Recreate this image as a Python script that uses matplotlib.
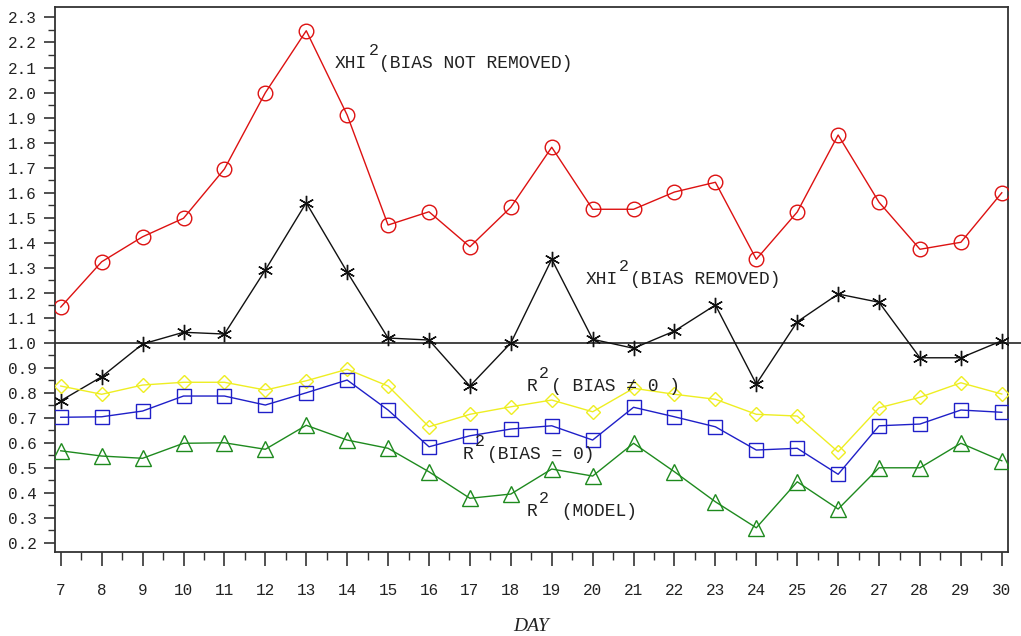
import matplotlib
matplotlib.use("Agg")
import matplotlib.pyplot as plt
from matplotlib.ticker import MultipleLocator, FixedLocator, FormatStrFormatter
from matplotlib.transforms import blended_transform_factory

# ---- data -------------------------------------------------------------
days = list(range(7, 31))

xhi2_bias_not_removed = [1.142, 1.323, 1.423, 1.497, 1.694, 1.999, 2.247, 1.910,
                         1.470, 1.523, 1.383, 1.541, 1.781, 1.533, 1.533, 1.602,
                         1.641, 1.333, 1.522, 1.830, 1.561, 1.373, 1.401, 1.599]

xhi2_bias_removed = [0.767, 0.863, 0.994, 1.041, 1.034, 1.290, 1.559, 1.282,
                     1.018, 1.010, 0.826, 0.998, 1.333, 1.013, 0.977, 1.046,
                     1.150, 0.834, 1.083, 1.194, 1.161, 0.939, 0.939, 1.007]

r2_bias_nonzero = [0.826, 0.793, 0.830, 0.841, 0.841, 0.810, 0.847, 0.893,
                   0.826, 0.663, 0.713, 0.743, 0.770, 0.723, 0.817, 0.793,
                   0.773, 0.713, 0.706, 0.563, 0.739, 0.781, 0.839, 0.794]

r2_bias_zero = [0.701, 0.703, 0.726, 0.786, 0.786, 0.750, 0.799, 0.850,
                0.730, 0.583, 0.627, 0.654, 0.667, 0.610, 0.741, 0.703,
                0.663, 0.570, 0.577, 0.473, 0.667, 0.674, 0.730, 0.721]

r2_model = [0.567, 0.546, 0.537, 0.597, 0.599, 0.573, 0.669, 0.610,
            0.577, 0.483, 0.377, 0.394, 0.494, 0.466, 0.597, 0.483,
            0.363, 0.259, 0.443, 0.334, 0.499, 0.499, 0.597, 0.527]

y_ticks = [round(0.2 + 0.1 * i, 1) for i in range(22)]

# ---- figure -----------------------------------------------------------
MONO = "Liberation Mono"
fig = plt.figure(figsize=(10.21, 6.36), dpi=100)
ax = fig.add_axes([0.0539, 0.132, 0.9333, 0.857])

series = [
    (xhi2_bias_not_removed, "#dd1111", "o", 10.5, 1.0),
    (xhi2_bias_removed, "#111111", (6, 2, 0), 11, 1.0),
    (r2_bias_nonzero, "#eeee22", "D", 7.5, 1.0),
    (r2_bias_zero, "#1f1fc8", "s", 10, 1.0),
    (r2_model, "#1e8a1e", "^", 11, 1.0),
]
for vals, col, mk, ms, lw in series:
    ax.plot(days, vals, color=col, lw=lw, marker=mk, ms=ms,
            mfc="none", mec=col, mew=1.0, zorder=3)

# reference line at 1.0, running past the right edge of the frame
tr = blended_transform_factory(ax.transAxes, ax.transData)
ax.plot([0, 1.05], [1.0, 1.0], transform=tr, color="#444444", lw=1.4,
        clip_on=False, zorder=2)

ax.set_xlim(6.86, 30.15)
ax.set_ylim(0.162, 2.342)

ax.xaxis.set_major_locator(FixedLocator(days))
ax.xaxis.set_minor_locator(MultipleLocator(0.5))
ax.yaxis.set_major_locator(FixedLocator(y_ticks))
ax.yaxis.set_minor_locator(MultipleLocator(0.05))
ax.yaxis.set_major_formatter(FormatStrFormatter("%.1f"))

for s in ax.spines.values():
    s.set_color("#333333")
    s.set_linewidth(1.3)

ax.tick_params(axis="x", which="major", direction="out", length=10, width=1.2,
               color="#333333", pad=12, labelsize=11.5)
ax.tick_params(axis="x", which="minor", direction="out", length=6, width=1.0,
               color="#333333")
ax.tick_params(axis="y", which="major", direction="out", length=8, width=1.2,
               color="#333333", pad=5, labelsize=11.5)
ax.tick_params(axis="y", which="minor", direction="out", length=5, width=1.0,
               color="#333333")
for lab in ax.get_xticklabels() + ax.get_yticklabels():
    lab.set_fontfamily(MONO)
    lab.set_color("#222222")

ax.set_xlabel("DAY", family="Liberation Serif", style="italic", fontsize=14,
              color="#222222", labelpad=14.5)


# ---- curve labels with raised "2" -------------------------------------
FS = 13.0
CW = 0.6 * FS  # advance of one monospace character, points


def sup_label(x, y, head, tail, head_chars, tail_chars):
    ax.annotate(head, (x, y), textcoords="offset points", xytext=(0, 0),
                family=MONO, fontsize=FS, va="baseline", ha="left",
                color="#222222")
    ax.annotate("2", (x, y), textcoords="offset points",
                xytext=(head_chars * CW + 1, 9.5), family=MONO, fontsize=FS - 1,
                va="baseline", ha="left", color="#222222")
    ax.annotate(tail, (x, y), textcoords="offset points",
                xytext=(tail_chars * CW, 0), family=MONO, fontsize=FS,
                va="baseline", ha="left", color="#222222")


sup_label(13.70, 2.097, "XHI", "(BIAS NOT REMOVED)", 3, 4.1)
sup_label(19.82, 1.234, "XHI", "(BIAS REMOVED)", 3, 4.1)
sup_label(18.39, 0.806, "R", "( BIAS \u2260 0 )", 1, 2.2)
sup_label(16.83, 0.533, "R", "(BIAS = 0)", 1, 2.2)
sup_label(18.39, 0.306, "R", " (MODEL)", 1, 2.2)

fig.savefig("out.png", dpi=100)
